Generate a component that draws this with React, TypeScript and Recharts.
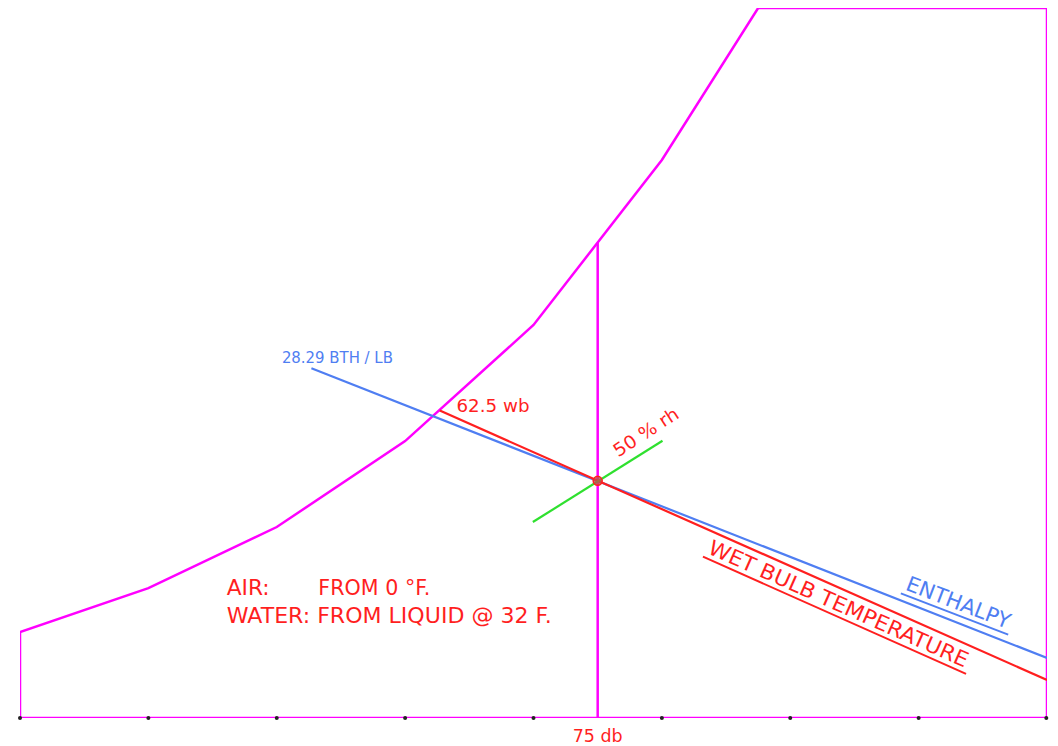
import { ComposedChart, Line, XAxis, YAxis, ReferenceDot } from 'recharts'

const MAGENTA = '#ff00ff'
const RED = '#ff1f1f'
const BLUE = '#4f7ef2'
const GREEN = '#2fe02f'
const COMIC = '"Comic Sans MS", "DejaVu Sans", sans-serif'
const PLAIN = '"DejaVu Sans", Verdana, sans-serif'

// dry bulb (°F) along the bottom, moisture (grains / lb) up the side
const DB_TICKS = [30, 40, 50, 60, 70, 80, 90, 100, 110]
const DB_MIN = 30
const DB_MAX = 110
const GR_MAX = 200

// saturation curve
const SAT_DB = [30, 40, 50, 60, 70, 80, 87.5]
const SAT_GR = [24.2, 36.6, 53.8, 78.0, 110.7, 157.2, 200]

// the state point: 75 db / 62.5 wb / 50 % rh
const STATE_DB = 75
const STATE_GR = 66.8
const STATE_SAT_GR = 133.8

const ENTHALPY_DB = [52.7, 110]
const ENTHALPY_GR = [98.5, 16.9]
const WETBULB_DB = [62.7, 110]
const WETBULB_GR = [86.6, 10.7]
const RH_DB = [69.95, 80.05]
const RH_GR = [55.2, 78.1]

const zip = (xs: number[], ys: number[]) => xs.map((x, i) => ({ x, y: ys[i] }))

// outline: left edge, saturation curve, top, right edge, bottom
const outline = [
  { x: DB_MIN, y: 0 },
  ...zip(SAT_DB, SAT_GR),
  { x: DB_MAX, y: GR_MAX },
  { x: DB_MAX, y: 0 },
  { x: DB_MIN, y: 0 },
]
const dbLine = [{ x: STATE_DB, y: 0 }, { x: STATE_DB, y: STATE_SAT_GR }]
const enthalpy = zip(ENTHALPY_DB, ENTHALPY_GR)
const wetBulb = zip(WETBULB_DB, WETBULB_GR)
const rh = zip(RH_DB, RH_GR)

type Note = {
  text: string
  x: number
  y: number
  color: string
  size: number
  font?: string
  angle?: number
  anchor?: 'start' | 'middle' | 'end'
  dy?: number
  len?: number
  underline?: number
}

const notes: Note[] = [
  { text: '28.29 BTH / LB', x: 50.4, y: 99.9, color: BLUE, size: 15, len: 111 },
  { text: '62.5 wb', x: 64.0, y: 86.3, color: RED, size: 17, len: 73 },
  { text: '50 % rh', x: 76.6, y: 73.4, color: RED, size: 18, angle: -33, len: 74 },
  { text: 'WET BULB TEMPERATURE', x: 83.5, y: 46.5, color: RED, size: 21, font: COMIC, angle: 24, len: 282, underline: 288 },
  { text: 'ENTHALPY', x: 98.9, y: 36.2, color: BLUE, size: 21, font: COMIC, angle: 21, len: 110, underline: 115 },
  { text: 'AIR:', x: 46.1, y: 34.6, color: RED, size: 21, font: COMIC, len: 43 },
  { text: 'FROM 0 °F.', x: 53.24, y: 34.6, color: RED, size: 21, font: COMIC, len: 112 },
  { text: 'WATER: FROM LIQUID @ 32 F.', x: 46.1, y: 26.7, color: RED, size: 21, font: COMIC, len: 325 },
  { text: '75 db', x: STATE_DB, y: 0, color: RED, size: 17, anchor: 'middle', dy: 24, len: 50 },
]

function NoteShape({ cx, cy, note }: { cx?: number; cy?: number; note: Note }) {
  if (cx == null || cy == null) return null
  return (
    <g transform={`translate(${cx},${cy + (note.dy ?? 0)}) rotate(${note.angle ?? 0})`}>
      <text
        x={0}
        y={0}
        fill={note.color}
        fontSize={note.size}
        fontFamily={note.font ?? PLAIN}
        textAnchor={note.anchor ?? 'start'}
        textLength={note.len}
        lengthAdjust={note.len ? 'spacingAndGlyphs' : undefined}
      >
        {note.text}
      </text>
      {note.underline && (
        <line x1={-2} y1={5} x2={note.underline - 2} y2={5} stroke={note.color} strokeWidth={2} />
      )}
    </g>
  )
}

const TickDot = ({ x, y }: { x?: number; y?: number }) => (
  <circle cx={x} cy={y} r={2} fill="#222" />
)

export default function App() {
  return (
    <ComposedChart width={1050} height={738} margin={{ top: 0, right: 11, bottom: 0, left: 12 }}>
      <XAxis
        dataKey="x"
        type="number"
        domain={[DB_MIN, DB_MAX]}
        ticks={DB_TICKS}
        height={28}
        axisLine={false}
        tickLine={false}
        tickSize={0}
        tickMargin={0}
        tick={<TickDot />}
        allowDataOverflow
      />
      <YAxis type="number" domain={[0, GR_MAX]} hide allowDataOverflow />
      <Line data={outline} dataKey="y" stroke={MAGENTA} strokeWidth={2.5} dot={false} isAnimationActive={false} />
      <Line data={dbLine} dataKey="y" stroke={MAGENTA} strokeWidth={2.5} dot={false} isAnimationActive={false} />
      <Line data={enthalpy} dataKey="y" stroke={BLUE} strokeWidth={2.2} dot={false} isAnimationActive={false} />
      <Line data={wetBulb} dataKey="y" stroke={RED} strokeWidth={2.2} dot={false} isAnimationActive={false} />
      <Line data={rh} dataKey="y" stroke={GREEN} strokeWidth={2.2} dot={false} isAnimationActive={false} />
      <ReferenceDot x={STATE_DB} y={STATE_GR} r={4.5} fill="#c0504a" fillOpacity={0.8} stroke={RED} strokeWidth={1.5} />
      {notes.map((n) => (
        <ReferenceDot
          key={n.text}
          x={n.x}
          y={n.y}
          r={0}
          shape={(p: any) => <NoteShape cx={p.cx} cy={p.cy} note={n} />}
        />
      ))}
    </ComposedChart>
  )
}
